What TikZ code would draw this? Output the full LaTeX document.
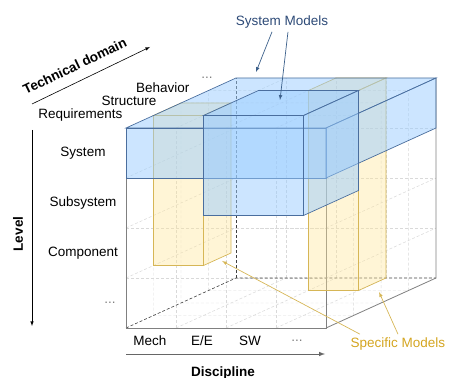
\documentclass[tikz,border=0pt]{standalone}
\usepackage{fontspec}
\setmainfont{Liberation Sans}
\usepackage{tikz}
\usetikzlibrary{arrows}
\definecolor{slabblue}{HTML}{99CCFF}
\definecolor{edgeblue}{HTML}{4A6E9E}
\definecolor{navytext}{HTML}{2D4A77}
\definecolor{arrowblue}{HTML}{3B5F8A}
\definecolor{boxyellow}{HTML}{FFE699}
\definecolor{edgegold}{HTML}{D6B656}
\definecolor{goldtext}{HTML}{D4A520}
\tikzset{
  lbl/.style={font=\fontsize{13.5bp}{16bp}\selectfont},
  axislbl/.style={font=\fontsize{13.5bp}{16bp}\selectfont\bfseries},
  dotslbl/.style={lbl, text=gray},
  gridline/.style={densely dashed, gray!30, line width=0.5pt},
  hidden/.style={densely dashed, black!75, line width=0.6pt},
  cubeedge/.style={gray, line width=0.8pt},
  axis/.style={->, >=latex, line width=0.6pt},
  sysbox/.style={draw=edgeblue, fill=slabblue, fill opacity=0.5, line width=0.7pt},
  specbox/.style={draw=edgegold, fill=boxyellow, fill opacity=0.4, line width=0.7pt},
  sysarrow/.style={->, >=latex, arrowblue, line width=0.7pt},
  specarrow/.style={->, >=latex, edgegold, line width=0.7pt},
}
% box from (#1,#2,#3) to (#4,#5,#6): front, top and right faces
\newcommand{\modelbox}[7]{%
  \filldraw[#7] (#1,#2,#3) -- (#4,#2,#3) -- (#4,#5,#3) -- (#1,#5,#3) -- cycle;
  \filldraw[#7] (#1,#5,#3) -- (#4,#5,#3) -- (#4,#5,#6) -- (#1,#5,#6) -- cycle;
  \filldraw[#7] (#4,#2,#3) -- (#4,#2,#6) -- (#4,#5,#6) -- (#4,#5,#3) -- cycle;
}

\begin{document}
\begin{tikzpicture}[x={(50bp,0bp)}, y={(0bp,50bp)}, z={(27.5bp,12.5bp)}]
	\useasboundingbox (-126bp,-50bp) rectangle (323bp,328bp);
	% faint grid on the faces of the cube
	\foreach \i in {1,2,3}{
		\draw[gridline] (\i,0,0) -- (\i,4,0) (0,\i,0) -- (4,\i,0);
		\draw[gridline] (\i,0,4) -- (\i,4,4) (0,\i,4) -- (4,\i,4);
		\draw[gridline] (\i,0,0) -- (\i,0,4) (0,0,\i) -- (4,0,\i);
		\draw[gridline] (0,\i,0) -- (0,\i,4) (0,0,\i) -- (0,4,\i);
		\draw[gridline] (\i,4,0) -- (\i,4,4) (0,4,\i) -- (4,4,\i);
		\draw[gridline] (4,\i,0) -- (4,\i,4) (4,0,\i) -- (4,4,\i);
	}
	\draw[hidden] (0,0,0) -- (0,0,4) -- (4,0,4);
	\draw[hidden] (0,0,4) -- (0,4,4);
	\draw[cubeedge] (0,4,0) -- (0,0,0) -- (4,0,0) -- (4,4,0);
	\draw[cubeedge] (4,0,0) -- (4,0,4) -- (4,4,4);

	% specific models
	\modelbox{0}{1}{1}{1}{4}{2}{specbox}
	\modelbox{2}{0}{3}{3}{4}{4}{specbox}
	% system models
	\modelbox{0}{3}{0}{4}{4}{4}{sysbox}
	\modelbox{1}{2}{1}{3}{4}{3}{sysbox}

	% level labels
	\node[lbl] (sys) at (-0.86,3.5) {System};
	\node[lbl] (subsys) at (-0.86,2.5) {Subsystem};
	\node[lbl] (comp) at (-0.86,1.5) {Component};
	\node[dotslbl] (lvdots) at (-0.32,0.5) {...};
	% discipline labels
	\node[lbl] (mech) at (0.48,-0.26) {Mech};
	\node[lbl] (ee) at (1.52,-0.26) {E/E};
	\node[lbl] (sw) at (2.48,-0.26) {SW};
	\node[dotslbl] (dsdots) at (3.42,-0.26) {...};
	% technical domain labels
	\node[lbl, anchor=east] (req) at (0bp,213bp) {Requirements};
	\node[lbl, anchor=east] (struct) at (34bp,227bp) {Structure};
	\node[lbl, anchor=east] (behav) at (67bp,240bp) {Behavior};
	\node[dotslbl] (tddots) at (81bp,250bp) {...};

	% axes
	\coordinate (tdA) at (-94bp,224bp);
	\coordinate (tdB) at (24bp,281bp);
	\draw[axis] (tdA) -- node[axislbl, pos=0.42, above=7bp, sloped] (tdlbl) {Technical domain} (tdB);
	\coordinate (lvA) at (-94bp,198bp);
	\coordinate (lvB) at (-94bp,2bp);
	\draw[axis] (lvA) -- (lvB);
	\node[axislbl, rotate=90] (lvlbl) at (-108bp,94bp) {Level};
	\coordinate (dsA) at (0bp,-26bp);
	\coordinate (dsB) at (199bp,-26bp);
	\draw[axis, black!60, line width=1pt] (dsA) -- (dsB);
	\node[axislbl] (dslbl) at (97bp,-45bp) {Discipline};

	% callouts
	\node[lbl, text=navytext] (sysmod) at (156bp,306bp) {System Models};
	\coordinate (slabtop) at (130bp,256bp);
	\coordinate (innertop) at (154bp,228bp);
	\draw[sysarrow] ([xshift=-10bp]sysmod.south) -- (slabtop);
	\draw[sysarrow] ([xshift=6bp]sysmod.south) -- (innertop);
	\node[lbl, text=goldtext] (specmod) at (272bp,-16bp) {Specific Models};
	\coordinate (mechbox) at (96bp,67bp);
	\coordinate (swbox) at (253bp,36bp);
	\draw[specarrow] ([xshift=-38bp]specmod.north) -- (mechbox);
	\draw[specarrow] (specmod.north) -- (swbox);
\end{tikzpicture}
\end{document}
